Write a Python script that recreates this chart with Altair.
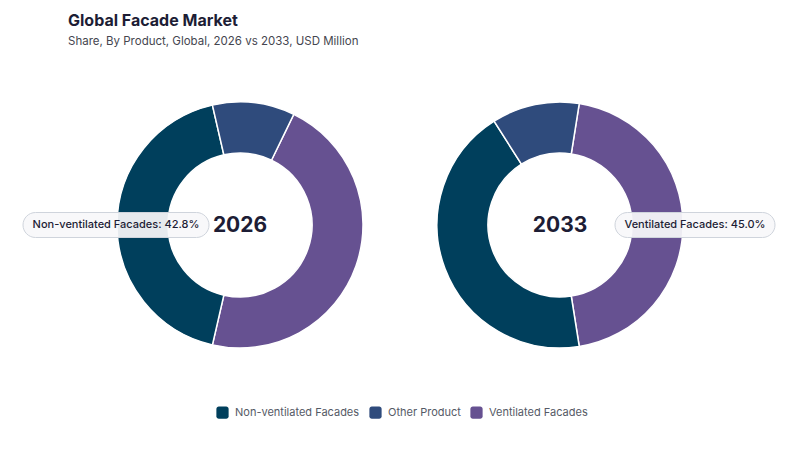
import math
import altair as alt
import pandas as pd

# --- data -------------------------------------------------------------
products = ["Ventilated Facades", "Non-ventilated Facades", "Other Product"]
share_2026 = [46.4, 42.8, 10.8]
share_2033 = [45.0, 43.5, 11.5]
years = ["2026", "2033"]
legend_order = ["Non-ventilated Facades", "Other Product", "Ventilated Facades"]
palette = ["#003f5c", "#2f4b7c", "#665191"]

# --- layout -----------------------------------------------------------
W, H = 800, 450
CY = 225
CX = {"2026": 240, "2033": 560}
R_OUT, R_IN = 123, 72
FONT = "Inter"
INK = "#1d1d35"


def frame(values):
    return pd.DataFrame({
        "product": products,
        "share": values,
        "ord": list(range(len(products))),
    })


def donut(df, cx, start_deg):
    start = math.radians(start_deg)
    total = float(df["share"].sum())
    return alt.Chart(df).mark_arc(
        outerRadius=R_OUT, innerRadius=R_IN, stroke="white", strokeWidth=1.5
    ).encode(
        theta=alt.Theta("share:Q", stack=True,
                        scale=alt.Scale(domain=[0, total], range=[start, start + 2 * math.pi])),
        order=alt.Order("ord:Q"),
        color=alt.Color("product:N",
                        scale=alt.Scale(domain=legend_order, range=palette),
                        legend=alt.Legend(title=None, orient="none", direction="horizontal",
                                          legendX=216, legendY=406,
                                          symbolType="M-1,-0.6A0.4,0.4 0 0 1 -0.6,-1H0.6A0.4,0.4 0 0 1 1,-0.6V0.6A0.4,0.4 0 0 1 0.6,1H-0.6A0.4,0.4 0 0 1 -1,0.6Z",
                                          symbolSize=150, symbolStrokeWidth=0,
                                          labelFont=FONT, labelFontSize=11, labelColor="#555a66",
                                          columnPadding=9, symbolOffset=0, labelOffset=6)),
        x=alt.value(cx),
        y=alt.value(CY),
    )


df26 = frame(share_2026)
df33 = frame(share_2033)

# 2026: Non-ventilated slice centred on the left (270 deg)
v26, n26 = share_2026[0], share_2026[1]
start26 = 270 - (v26 + n26 / 2) * 3.6
# 2033: Ventilated slice centred on the right (90 deg)
v33 = share_2033[0]
start33 = 90 - (v33 / 2) * 3.6

arc26 = donut(df26, CX["2026"], start26)
arc33 = donut(df33, CX["2033"], start33)

center_df = pd.DataFrame({"year": years, "cx": [CX[y] for y in years]})
centers = [
    alt.Chart(center_df.iloc[[i]]).mark_text(
        font=FONT, fontSize=21, fontWeight="bold", color=INK, baseline="middle", align="center"
    ).encode(text="year:N", x=alt.value(int(center_df.cx[i])), y=alt.value(CY + 1))
    for i in range(2)
]

# callout pills for the highlighted slice of each year
callouts = [
    ("Non-ventilated Facades: {:.1f}%".format(n26), 23, 209),
    ("Ventilated Facades: {:.1f}%".format(v33), 615, 775),
]
pill_layers = []
for label, x0, x1 in callouts:
    d = pd.DataFrame({"label": [label]})
    pill_layers.append(
        alt.Chart(d).mark_rect(
            cornerRadius=12.5, fill="#f7f8fa", fillOpacity=0.93, stroke="#cfd4dc", strokeWidth=1
        ).encode(x=alt.value(x0), x2=alt.value(x1), y=alt.value(CY - 12.5), y2=alt.value(CY + 12.5))
    )
    pill_layers.append(
        alt.Chart(d).mark_text(
            font=FONT, fontSize=11, fontWeight=500, color=INK, align="center", baseline="middle"
        ).encode(text="label:N", x=alt.value((x0 + x1) / 2), y=alt.value(CY))
    )

title_df = pd.DataFrame({"t": ["Global Facade Market"]})
sub_df = pd.DataFrame({"t": ["Share, By Product, Global, 2026 vs 2033, USD Million"]})
title = alt.Chart(title_df).mark_text(
    font=FONT, fontSize=16, fontWeight="bold", color=INK, align="left", baseline="alphabetic"
).encode(text="t:N", x=alt.value(68), y=alt.value(26))
subtitle = alt.Chart(sub_df).mark_text(
    font=FONT, fontSize=11.5, color="#45464f", align="left", baseline="alphabetic"
).encode(text="t:N", x=alt.value(68), y=alt.value(45))

chart = alt.layer(
    arc26, arc33, *centers, *pill_layers, title, subtitle
).resolve_scale(theta="independent").properties(
    width=W, height=H, autosize=alt.AutoSizeParams(type="none"), padding=0, background="white"
).configure_view(stroke=None)

chart.save("out.html", embed_options={"renderer": "svg", "actions": False})
